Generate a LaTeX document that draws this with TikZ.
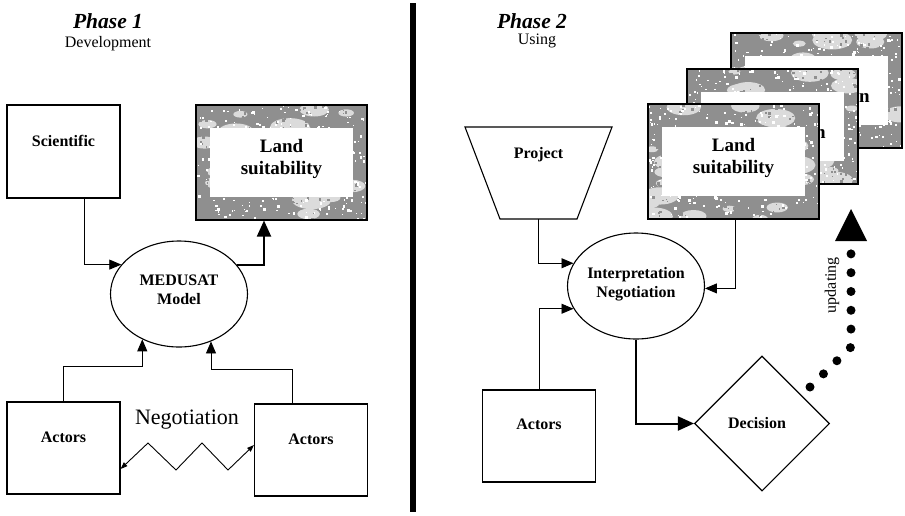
\documentclass[tikz,border=0pt]{standalone}
\usepackage{fontspec}
\setmainfont{Liberation Serif}
\usetikzlibrary{shapes.geometric,arrows.meta,calc}

\definecolor{cardgray}{gray}{0.56}
\definecolor{cardpale}{gray}{0.86}

\tikzset{
  box/.style={draw, line width=1.1pt, minimum width=113pt, minimum height=92pt, inner sep=0pt},
  oval/.style={draw, ellipse, line width=1.1pt, minimum width=137pt, minimum height=106pt, inner sep=0pt},
  txt/.style={font=\fontsize{16}{19}\selectfont\bfseries, inner sep=0pt, align=center},
  bigtxt/.style={font=\fontsize{19}{22}\selectfont\bfseries, inner sep=0pt, align=center},
  flow/.style={line width=0.9pt, -{Triangle[length=12pt,width=10pt]}},
  heavyflow/.style={line width=2pt, -{Triangle[length=16pt,width=14pt]}},
  zig/.style={line width=0.9pt, {Triangle[length=7pt,width=5pt]}-{Triangle[length=7pt,width=5pt]}}
}

% a map card: mottled grey frame around a white panel
% #1 name, #2 left, #3 top, #4 seed
\newcommand\landcard[4]{%
  \begin{scope}
    \clip (#2,#3) rectangle ++(171,115);
    \fill[cardgray] (#2,#3) rectangle ++(171,115);
    \pgfmathsetseed{#4}
    % pale patches
    \foreach \k in {1,...,26}{
      \pgfmathsetmacro\px{#2+rnd*171}
      \pgfmathsetmacro\py{#3+rnd*115}
      \pgfmathsetmacro\pr{4+rnd*10}
      \fill[cardpale] (\px,\py) ellipse [x radius=\pr*1.5, y radius=\pr*0.7];
    }
    % grey grain
    \foreach \k in {1,...,300}{
      \pgfmathsetmacro\px{#2+rnd*171}
      \pgfmathsetmacro\py{#3+rnd*115}
      \pgfmathsetmacro\pw{1+rnd*2}
      \fill[cardgray] (\px,\py) rectangle ++(\pw,\pw);
    }
    % white grain
    \foreach \k in {1,...,300}{
      \pgfmathsetmacro\px{#2+rnd*171}
      \pgfmathsetmacro\py{#3+rnd*115}
      \pgfmathsetmacro\pw{0.8+rnd*2}
      \fill[white] (\px,\py) rectangle ++(\pw,\pw);
    }
  \end{scope}
  \node[draw, line width=1.1pt, minimum width=171pt, minimum height=115pt, inner sep=0pt]
    (#1) at (#2+85.5,#3+57.5) {};
  \fill[white] (#2+14,#3+23) rectangle ++(143,69);
}

\begin{document}
\begin{tikzpicture}[x=1pt,y=-1pt]
\useasboundingbox (0,0) rectangle (905,515);
\fill[white] (0,0) rectangle (905,515);

% ---------- Phase 1 ----------
\node[font=\fontsize{21.5}{24}\selectfont\bfseries\itshape, inner sep=0pt] (t1) at (108,21.5) {Phase 1};
\node[font=\fontsize{16}{19}\selectfont, inner sep=0pt] (s1) at (108,44) {Development};

\node[box, minimum height=93pt] (sci) at (63.5,151.5) {};
\node[txt] (scil) at (63.5,141) {Scientific};

\landcard{land1}{196}{105}{11}
\node[bigtxt] (land1l) at (281.5,159) {Land\\suitability};

\node[oval] (med) at (179,294) {};
\node[txt] (medl) at (179,290) {MEDUSAT\\Model};

\node[box] (act1) at (63.5,448) {};
\node[txt] (act1l) at (63.5,437.5) {Actors};
\node[box] (act2) at (311,450) {};
\node[txt] (act2l) at (311,439) {Actors};

\node[font=\fontsize{22}{26}\selectfont, inner sep=0pt] (neg) at (187,420) {Negotiation};

\draw[flow] ([xshift=20.5pt]sci.south) |- (med.153);
\draw[heavyflow] (med.27) -| ([xshift=-17.5pt]land1.south);
\draw[flow] (act1.north) -- ++(0,-35) -| (med.231);
\draw[flow] ([xshift=-19pt]act2.north) -- ++(0,-34) -| (med.304);
\draw[zig] ([yshift=-21pt]act1.east) -- (148,443) -- (176,470) -- (202,443) -- (228,470) -- ([yshift=5pt]act2.west);

% divider between the two phases
\draw[line width=6pt] (413,3) -- (413,512);

% ---------- Phase 2 ----------
\node[font=\fontsize{21.5}{24}\selectfont\bfseries\itshape, inner sep=0pt] (t2) at (532,21) {Phase 2};
\node[font=\fontsize{16}{19}\selectfont, inner sep=0pt] (s2) at (537,41) {Using};

% stack of cards, back to front
\landcard{land4}{731}{33}{23}
\node[bigtxt, anchor=base east] (land4l) at (870,102) {n};
\landcard{land3}{687}{69}{37}
\node[bigtxt, anchor=base east] (land3l) at (826,138) {n};
\landcard{land2}{648}{104}{53}
\node[bigtxt] (land2l) at (733.5,158) {Land\\suitability};

% project funnel
\draw[line width=1.1pt] (465,127) -- (612,127) -- (577,219) -- (500,219) -- cycle;
\coordinate (proj) at (538.5,219);
\node[txt] (projl) at (538.5,155) {Project};

\node[oval] (int) at (636,286) {};
\node[txt] (intl) at (636,284) {Interpretation\\Negotiation};

\node[box] (act3) at (539,436) {};
\node[txt] (act3l) at (539,424) {Actors};

\node[draw, diamond, line width=1.1pt, minimum width=135pt, minimum height=135pt, inner sep=0pt] (dec) at (762,423.5) {};
\node[txt] (decl) at (757,423) {Decision};

\draw[flow] (proj) |- (int.160);
\draw[flow] ([xshift=1.5pt]land2.south) |- (int.358);
\draw[flow] (act3.north) |- (int.200);
\draw[heavyflow] (int.south) |- (dec.west);

% updating loop
\coordinate (upA) at (810,387);
\coordinate (upB) at (851,347);
\coordinate (upC) at (851,252);
\draw[line width=9pt, line cap=round, dash pattern=on 0pt off 18.8pt] (upA) -- (upB) -- (upC);
\fill (851,209) -- (867,241) -- (835,241) -- cycle;
\node[font=\fontsize{16}{19}\selectfont, inner sep=0pt, rotate=90] (upd) at (832,285) {updating};

\end{tikzpicture}
\end{document}
